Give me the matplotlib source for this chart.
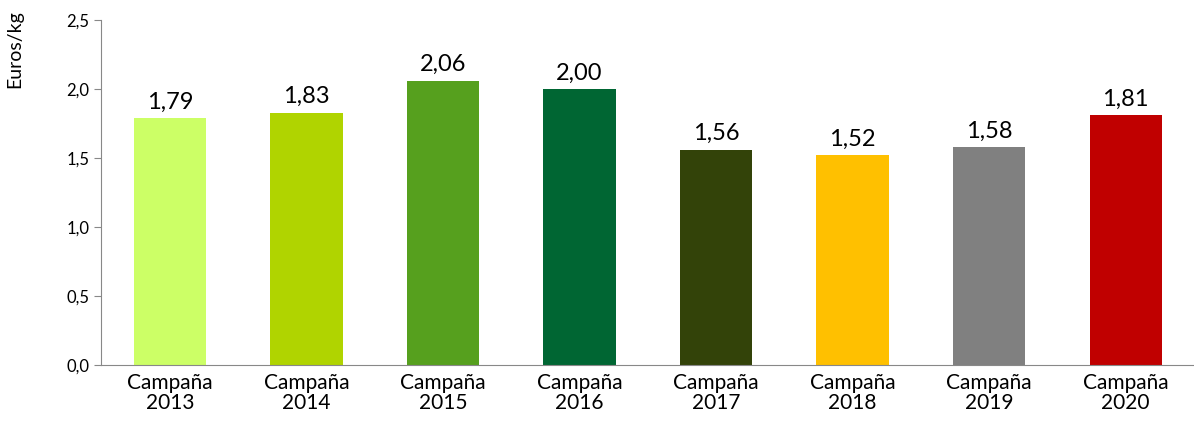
import matplotlib.pyplot as plt
from matplotlib.ticker import FuncFormatter

# data
campaigns = ['Campaña\n2013', 'Campaña\n2014', 'Campaña\n2015', 'Campaña\n2016',
             'Campaña\n2017', 'Campaña\n2018', 'Campaña\n2019', 'Campaña\n2020']
prices = [1.79, 1.83, 2.06, 2.00, 1.56, 1.52, 1.58, 1.81]
colors = ['#CCFF66', '#B0D400', '#56A01E', '#006633',
          '#334309', '#FFC000', '#808080', '#C00000']

plt.rcParams['font.family'] = ['Lato', 'DejaVu Sans']

fig = plt.figure(figsize=(11.94, 4.28), dpi=100)
ax = fig.add_axes([0.085, 0.147, 0.915, 0.806])

x = range(len(prices))
ax.bar(x, prices, width=0.53, color=colors)
for xi, v in zip(x, prices):
    ax.text(xi, v + 0.04, f'{v:.2f}'.replace('.', ','), ha='center', va='bottom', fontsize=17)

ax.set_xlim(-0.5, len(prices) - 0.5)
ax.set_ylim(0, 2.5)
ax.set_yticks([0, 0.5, 1.0, 1.5, 2.0, 2.5])
ax.yaxis.set_major_formatter(FuncFormatter(lambda v, p: f'{v:.1f}'.replace('.', ',')))
ax.set_xticks(list(x))
ax.set_xticklabels(campaigns, fontsize=15, linespacing=1.0)
ax.tick_params(axis='y', labelsize=12, color='#888888', length=5)
ax.tick_params(axis='x', length=0, pad=6)
ax.set_ylabel('Euros/kg', fontsize=14, loc='top')
ax.yaxis.set_label_coords(-0.072, 1.03)
for s in ['top', 'right']:
    ax.spines[s].set_visible(False)
for s in ['left', 'bottom']:
    ax.spines[s].set_color('#888888')

fig.savefig('out.png', dpi=100)
